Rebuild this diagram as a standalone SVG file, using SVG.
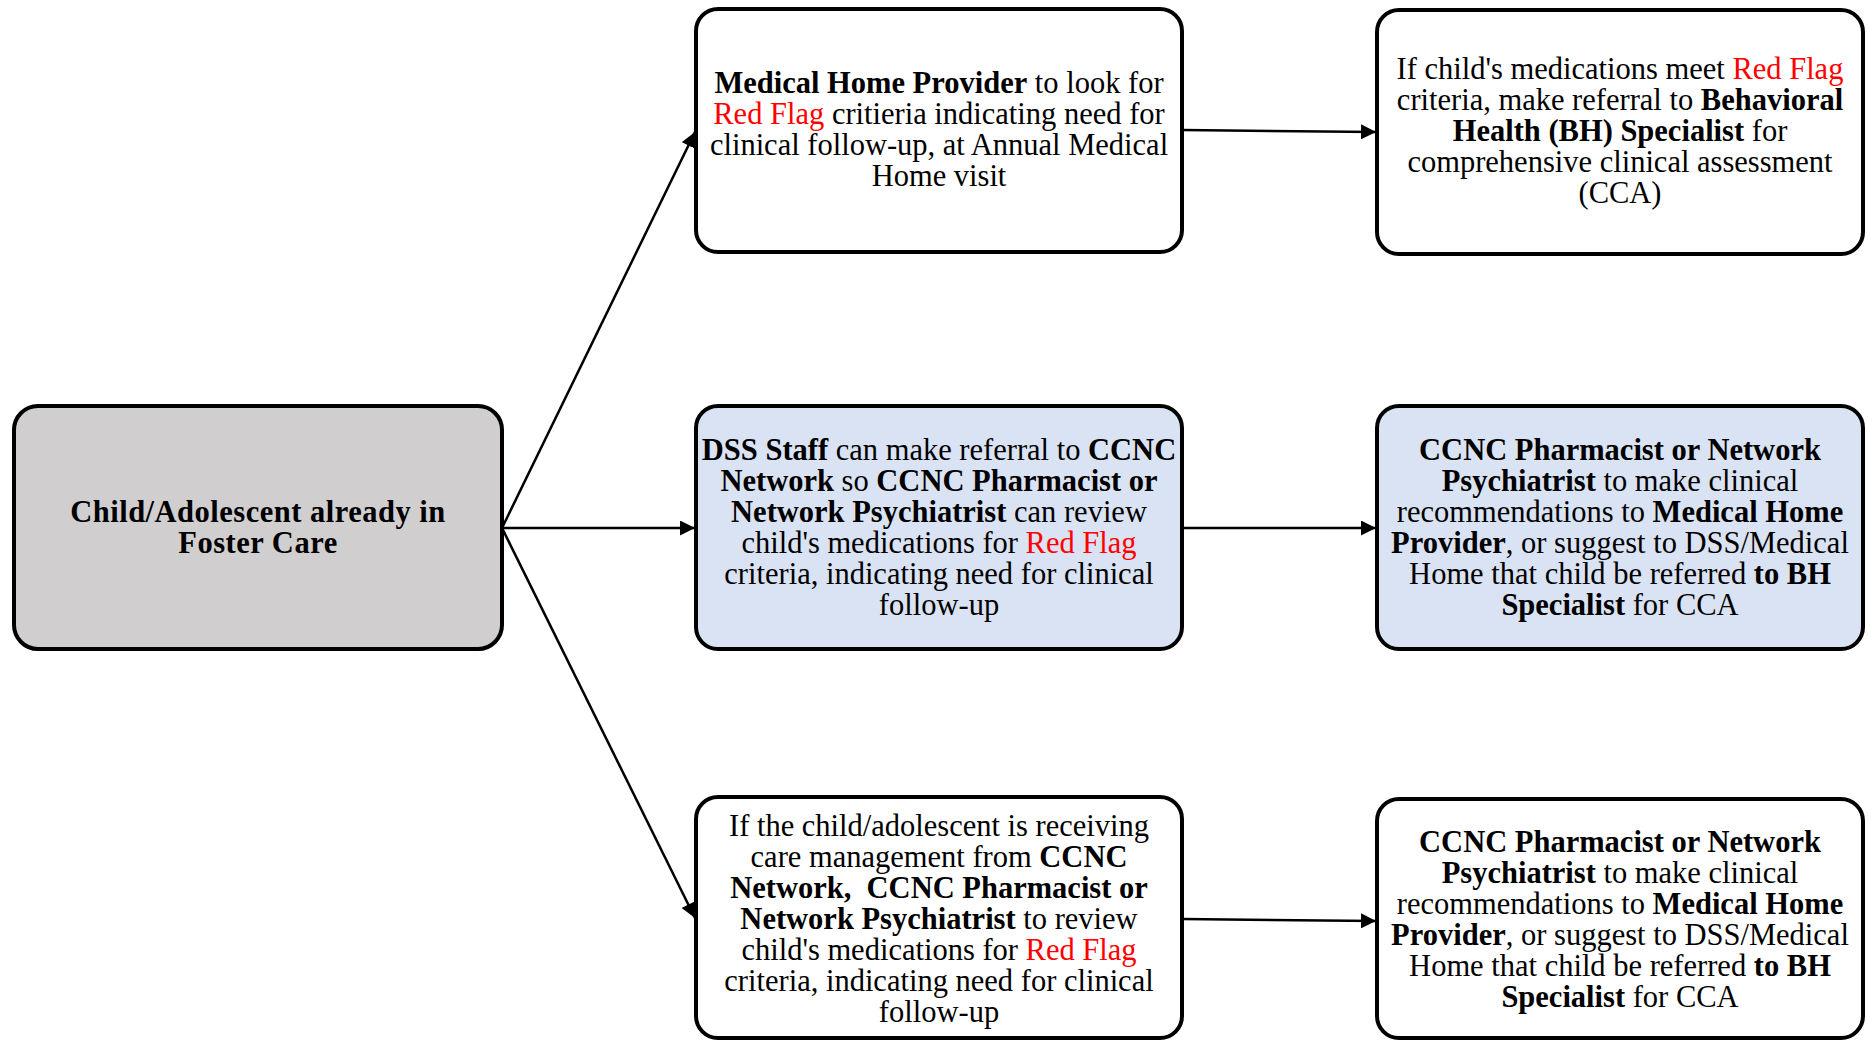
<svg xmlns="http://www.w3.org/2000/svg" width="1868" height="1040" viewBox="0 0 1868 1040">
<defs>
<marker id="arrow" markerUnits="userSpaceOnUse" markerWidth="15" markerHeight="15" refX="15" refY="7.5" orient="auto">
<path d="M0,0 L15,7.5 L0,15 z" fill="#000"/>
</marker>
<style>
.box{stroke:#000;stroke-width:4;}
.white{fill:#fff;}
.gray{fill:#d0cece;}
.blue{fill:#dae3f3;}
.t{font-family:"Liberation Serif","Times New Roman",serif;font-size:30.5px;fill:#000;text-anchor:middle;white-space:pre;}
.wide{letter-spacing:0.5px;}
.b{font-weight:bold;}
.r{fill:#ff0000;}
.conn{stroke:#000;stroke-width:2.5;fill:none;marker-end:url(#arrow);}
</style>
</defs>
<rect width="1868" height="1040" fill="#fff"/>

<g id="connectors">
<line class="conn" x1="502" y1="528" x2="695" y2="132"/>
<line class="conn" x1="502" y1="528" x2="695" y2="528"/>
<line class="conn" x1="502" y1="528" x2="695" y2="918"/>
<line class="conn" x1="1182" y1="130" x2="1376" y2="132"/>
<line class="conn" x1="1182" y1="528" x2="1376" y2="528"/>
<line class="conn" x1="1182" y1="919" x2="1376" y2="921"/>
</g>

<g id="start">
<rect class="box gray" x="14" y="406" width="488" height="243" rx="24"/>
<text class="t b wide" x="258" y="522">Child/Adolescent already in</text>
<text class="t b wide" x="258" y="553">Foster Care</text>
</g>

<g id="medical-home">
<rect class="box white" x="696" y="9" width="486" height="243" rx="22"/>
<text class="t" x="939" y="93"><tspan class="b">Medical Home Provider</tspan> to look for</text>
<text class="t" x="939" y="124"><tspan class="r">Red Flag</tspan> critieria indicating need for</text>
<text class="t" x="939" y="155">clinical follow-up, at Annual Medical</text>
<text class="t" x="939" y="186">Home visit</text>
</g>

<g id="bh-referral">
<rect class="box white" x="1377" y="10" width="486" height="244" rx="22"/>
<text class="t" x="1620" y="79">If child's medications meet <tspan class="r">Red Flag</tspan></text>
<text class="t" x="1620" y="110">criteria, make referral to <tspan class="b">Behavioral</tspan></text>
<text class="t" x="1620" y="141"><tspan class="b">Health (BH) Specialist</tspan> for</text>
<text class="t" x="1620" y="172">comprehensive clinical assessment</text>
<text class="t" x="1620" y="203">(CCA)</text>
</g>

<g id="dss-staff">
<rect class="box blue" x="696" y="406" width="486" height="243" rx="22"/>
<text class="t" x="939" y="460"><tspan class="b">DSS Staff</tspan> can make referral to <tspan class="b">CCNC</tspan></text>
<text class="t" x="939" y="491"><tspan class="b">Network</tspan> so <tspan class="b">CCNC Pharmacist or</tspan></text>
<text class="t" x="939" y="522"><tspan class="b">Network Psychiatrist</tspan> can review</text>
<text class="t" x="939" y="553">child's medications for <tspan class="r">Red Flag</tspan></text>
<text class="t" x="939" y="584">criteria, indicating need for clinical</text>
<text class="t" x="939" y="615">follow-up</text>
</g>

<g id="ccnc-recommend-1">
<rect class="box blue" x="1377" y="406" width="486" height="243" rx="22"/>
<text class="t" x="1620" y="460"><tspan class="b">CCNC Pharmacist or Network</tspan></text>
<text class="t" x="1620" y="491"><tspan class="b">Psychiatrist</tspan> to make clinical</text>
<text class="t" x="1620" y="522">recommendations to <tspan class="b">Medical Home</tspan></text>
<text class="t" x="1620" y="553"><tspan class="b">Provider</tspan>, or suggest to DSS/Medical</text>
<text class="t" x="1620" y="584">Home that child be referred <tspan class="b">to BH</tspan></text>
<text class="t" x="1620" y="615"><tspan class="b">Specialist</tspan> for CCA</text>
</g>

<g id="care-management">
<rect class="box white" x="696" y="797" width="486" height="241" rx="22"/>
<text class="t" x="939" y="835.5">If the child/adolescent is receiving</text>
<text class="t" x="939" y="866.5">care management from <tspan class="b">CCNC</tspan></text>
<text class="t" x="939" y="897.5"><tspan class="b">Network,  CCNC Pharmacist or</tspan></text>
<text class="t" x="939" y="928.5"><tspan class="b">Network Psychiatrist</tspan> to review</text>
<text class="t" x="939" y="959.5">child's medications for <tspan class="r">Red Flag</tspan></text>
<text class="t" x="939" y="990.5">criteria, indicating need for clinical</text>
<text class="t" x="939" y="1021.5">follow-up</text>
</g>

<g id="ccnc-recommend-2">
<rect class="box white" x="1377" y="799" width="486" height="239" rx="22"/>
<text class="t" x="1620" y="852"><tspan class="b">CCNC Pharmacist or Network</tspan></text>
<text class="t" x="1620" y="883"><tspan class="b">Psychiatrist</tspan> to make clinical</text>
<text class="t" x="1620" y="914">recommendations to <tspan class="b">Medical Home</tspan></text>
<text class="t" x="1620" y="945"><tspan class="b">Provider</tspan>, or suggest to DSS/Medical</text>
<text class="t" x="1620" y="976">Home that child be referred <tspan class="b">to BH</tspan></text>
<text class="t" x="1620" y="1007"><tspan class="b">Specialist</tspan> for CCA</text>
</g>
</svg>
